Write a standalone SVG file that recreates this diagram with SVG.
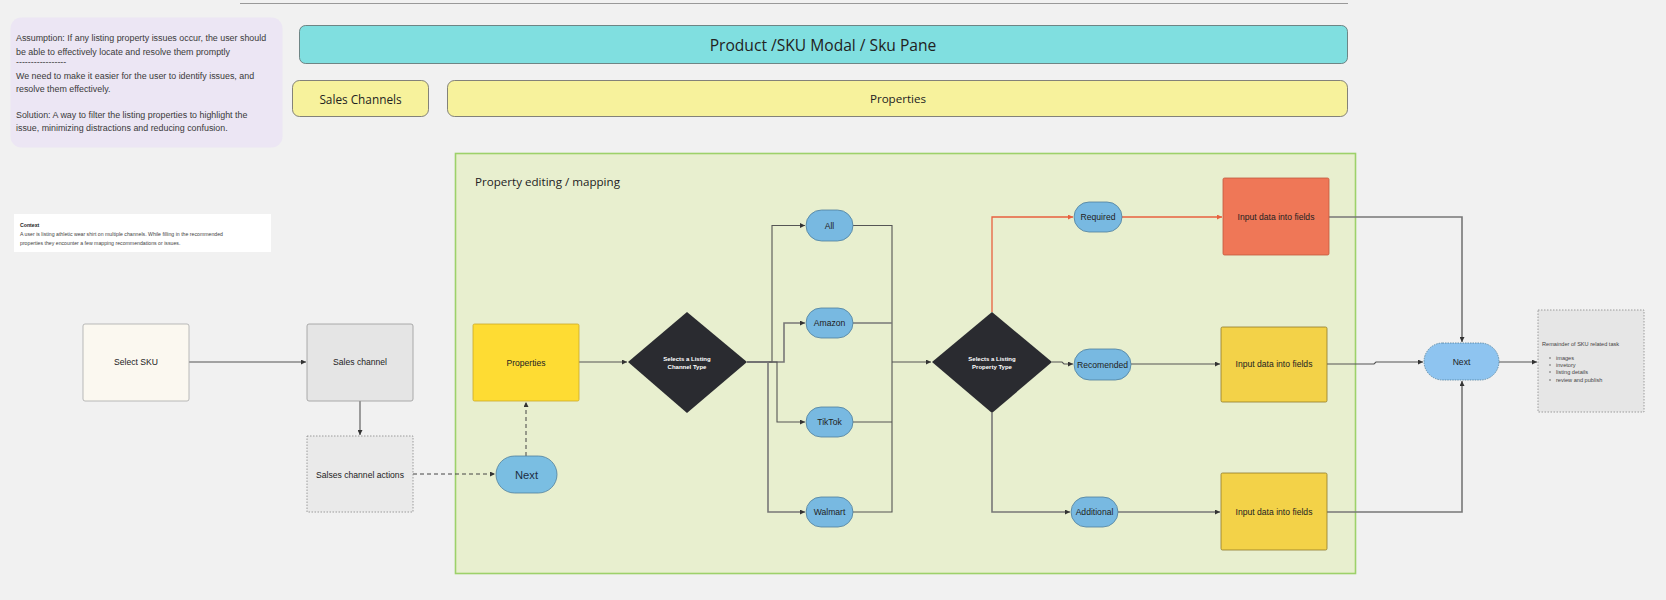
<svg xmlns="http://www.w3.org/2000/svg" width="1666" height="600" viewBox="0 0 1666 600">
<defs>
<style>
.sans{font-family:"Liberation Sans",Arial,sans-serif}
.os{font-family:"Open Sans","Liberation Sans",sans-serif;fill:#222}
.lbl{font-family:"Liberation Sans",Arial,sans-serif;font-size:8.6px;fill:#222;text-anchor:middle;dominant-baseline:central}
.dlbl{font-family:"Liberation Sans",Arial,sans-serif;font-size:6px;font-weight:bold;fill:#fff;text-anchor:middle}
.note{font-family:"Liberation Sans",Arial,sans-serif;font-size:8.9px;fill:#3a3a3a}
.pill{fill:#78B9E1;stroke:#4f7f9c;stroke-width:0.8}
.box{stroke-width:0.8}
.ln{fill:none;stroke:#555;stroke-width:1.1}
.lg{fill:none;stroke:#777;stroke-width:1.6}
.red{fill:none;stroke:#E8603F;stroke-width:1.3}
.dash{fill:none;stroke:#444;stroke-width:1;stroke-dasharray:4,3}
</style>
<marker id="ar" viewBox="0 0 6 6" refX="6" refY="3" markerWidth="5" markerHeight="5" markerUnits="userSpaceOnUse" orient="auto"><path d="M0,0 L6,3 L0,6 z" fill="#333"/></marker>
<marker id="arr" viewBox="0 0 6 6" refX="6" refY="3" markerWidth="5" markerHeight="5" markerUnits="userSpaceOnUse" orient="auto"><path d="M0,0 L6,3 L0,6 z" fill="#E8603F"/></marker>
</defs>
<rect x="0" y="0" width="1666" height="600" fill="#F1F1F1"/>
<line x1="240" y1="3.5" x2="1348" y2="3.5" stroke="#999" stroke-width="1"/>

<g id="assumption">
<rect x="10.5" y="17.5" width="272" height="130" rx="11" fill="#ECE6F4"/>
<text class="note" x="16" y="41">Assumption: If any listing property issues occur, the user should</text>
<text class="note" x="16" y="55">be able to effectively locate and resolve them promptly</text>
<text class="note" x="16" y="65">-----------------</text>
<text class="note" x="16" y="79">We need to make it easier for the user to identify issues, and</text>
<text class="note" x="16" y="92">resolve them effectively.</text>
<text class="note" x="16" y="118">Solution: A way to filter the listing properties to highlight the</text>
<text class="note" x="16" y="131">issue, minimizing distractions and reducing confusion.</text>
</g>

<g id="context">
<rect x="14" y="214" width="257" height="38" fill="#FFFFFF"/>
<text class="sans" x="20" y="227" font-size="5.2" font-weight="bold" fill="#222">Context</text>
<text class="sans" x="20" y="236" font-size="5.2" fill="#444">A user is listing athletic wear shirt on multiple channels. While filling in the recommended</text>
<text class="sans" x="20" y="245" font-size="5.2" fill="#444">properties they encounter a few mapping recommendations or issues.</text>
</g>

<g id="header">
<rect x="299.5" y="25.5" width="1048" height="38" rx="6" fill="#80DFE0" stroke="#5b6b6b" stroke-width="0.8"/>
<text class="os" x="823" y="45" font-size="15.6" text-anchor="middle" dominant-baseline="central">Product /SKU Modal / Sku Pane</text>
</g>
<g id="sales-channels-bar">
<rect x="292.5" y="80.5" width="136" height="36" rx="7" fill="#F7F29C" stroke="#666" stroke-width="0.8"/>
<text class="os" x="360.5" y="98.5" font-size="11.8" text-anchor="middle" dominant-baseline="central">Sales Channels</text>
</g>
<g id="properties-bar">
<rect x="447.5" y="80.5" width="900" height="36" rx="7" fill="#F7F29C" stroke="#666" stroke-width="0.8"/>
<text class="os" x="898" y="98.5" font-size="11.6" text-anchor="middle" dominant-baseline="central">Properties</text>
</g>

<g id="container">
<rect x="455.5" y="153.5" width="900" height="420" fill="#E8EFCF" stroke="#9DD16A" stroke-width="1.6"/>
<text class="os" x="475" y="186" font-size="11.6">Property editing / mapping</text>
</g>

<g id="connectors">
<path class="ln" d="M189,362 H306" marker-end="url(#ar)"/>
<path class="ln" d="M360,401 V435" marker-end="url(#ar)"/>
<path class="dash" d="M413,474 H495" marker-end="url(#ar)"/>
<path class="dash" d="M526,456 V402" marker-end="url(#ar)"/>
<path class="ln" d="M579,362 H627" marker-end="url(#ar)"/>
<path class="ln" d="M747,362 H772 V225.5 H805" marker-end="url(#ar)"/>
<path class="lg" d="M747,362 H784 V323 H805" marker-end="url(#ar)"/>
<path class="ln" d="M747,362 H777 V422 H805" marker-end="url(#ar)"/>
<path class="lg" d="M747,362 H768 V512 H805" marker-end="url(#ar)"/>
<path class="ln" d="M853,225.5 H892 V512 H853"/>
<path class="lg" d="M853,323 H892"/>
<path class="ln" d="M853,422 H892"/>
<path class="ln" d="M892,362 H931" marker-end="url(#ar)"/>
<path class="red" d="M992,312 V217 H1073" marker-end="url(#arr)"/>
<path class="red" d="M1122,217 H1222" marker-end="url(#arr)"/>
<path class="ln" d="M1052,362 H1062 L1064,364 H1073" marker-end="url(#ar)"/>
<path class="ln" d="M1131,364 H1220" marker-end="url(#ar)"/>
<path class="lg" d="M992,413 V512 H1070" marker-end="url(#ar)"/>
<path class="lg" d="M1118,512 H1220" marker-end="url(#ar)"/>
<path class="lg" d="M1329,217 H1462 V342" marker-end="url(#ar)"/>
<path class="ln" d="M1327,364 H1374 L1376,362 H1423" marker-end="url(#ar)"/>
<path class="lg" d="M1327,512 H1462 V381" marker-end="url(#ar)"/>
<path class="ln" d="M1499,362 H1537" marker-end="url(#ar)"/>
</g>

<g id="select-sku">
<rect class="box" x="83" y="324" width="106" height="77" rx="2" fill="#FBF8F0" stroke="#aaa"/>
<text class="lbl" x="136" y="362">Select SKU</text>
</g>
<g id="sales-channel">
<rect class="box" x="307" y="324" width="106" height="77" rx="2" fill="#E5E5E5" stroke="#999"/>
<text class="lbl" x="360" y="362">Sales channel</text>
</g>
<g id="sales-channel-actions">
<rect x="307" y="436" width="106" height="76" fill="#EAEAEA" stroke="#888" stroke-width="0.8" stroke-dasharray="1.5,1.5"/>
<text class="lbl" x="360" y="475">Salses channel actions</text>
</g>
<g id="next-left">
<rect x="496" y="456" width="61" height="37" rx="18.5" fill="#7ABEE2" stroke="#4f7f9c" stroke-width="0.8"/>
<text class="sans" x="526.5" y="474.5" font-size="11.2" fill="#1d2f44" text-anchor="middle" dominant-baseline="central">Next</text>
</g>
<g id="properties">
<rect class="box" x="473" y="324" width="106" height="77" rx="1.5" fill="#FEDC33" stroke="#caa82a"/>
<text class="lbl" x="526" y="363" fill="#5a4a10">Properties</text>
</g>
<g id="channel-type">
<polygon points="628,362 687,312 747,362 687,413" fill="#2A2B30"/>
<text class="dlbl" x="687" y="361">Selects a Listing</text>
<text class="dlbl" x="687" y="368.5">Channel Type</text>
</g>
<g id="all">
<rect class="pill" x="806" y="210" width="47" height="31" rx="15.5"/>
<text class="lbl" x="829.5" y="225.5">All</text>
</g>
<g id="amazon">
<rect class="pill" x="806" y="308" width="47" height="30" rx="15"/>
<text class="lbl" x="829.5" y="323">Amazon</text>
</g>
<g id="tiktok">
<rect class="pill" x="806" y="407" width="47" height="30" rx="15"/>
<text class="lbl" x="829.5" y="422">TikTok</text>
</g>
<g id="walmart">
<rect class="pill" x="806" y="497" width="47" height="30" rx="15"/>
<text class="lbl" x="829.5" y="512">Walmart</text>
</g>
<g id="property-type">
<polygon points="932,362 992,312 1052,362 992,413" fill="#2A2B30"/>
<text class="dlbl" x="992" y="361">Selects a Listing</text>
<text class="dlbl" x="992" y="368.5">Property Type</text>
</g>
<g id="required">
<rect class="pill" x="1074" y="202" width="48" height="30" rx="15"/>
<text class="lbl" x="1098" y="217">Required</text>
</g>
<g id="recomended">
<rect class="pill" x="1074" y="349" width="57" height="31" rx="15.5"/>
<text class="lbl" x="1102.5" y="364.5">Recomended</text>
</g>
<g id="additional">
<rect class="pill" x="1071" y="497" width="47" height="30" rx="15"/>
<text class="lbl" x="1094.5" y="512">Additional</text>
</g>
<g id="input-required">
<rect class="box" x="1223" y="178" width="106" height="77" rx="1.5" fill="#EF7757" stroke="#c2583c"/>
<text class="lbl" x="1276" y="217">Input data into fields</text>
</g>
<g id="input-recomended">
<rect class="box" x="1221" y="327" width="106" height="75" rx="1.5" fill="#F3D248" stroke="#8f7a2a"/>
<text class="lbl" x="1274" y="364">Input data into fields</text>
</g>
<g id="input-additional">
<rect class="box" x="1221" y="473" width="106" height="77" rx="1.5" fill="#F3D248" stroke="#8f7a2a"/>
<text class="lbl" x="1274" y="512">Input data into fields</text>
</g>
<g id="next-right">
<rect x="1424" y="343" width="75" height="37" rx="18.5" fill="#8EC4F0" stroke="#4f7f9c" stroke-width="0.8" stroke-dasharray="1.5,1"/>
<text class="lbl" x="1461.5" y="362" fill="#1d2f44">Next</text>
</g>
<g id="remainder">
<rect x="1538" y="310" width="106" height="102" fill="#E6E6E6" stroke="#888" stroke-width="0.8" stroke-dasharray="1.5,1.5"/>
<text class="sans" x="1542" y="346" font-size="5.6" fill="#444">Remainder of SKU related task</text>
<g class="sans" font-size="5.6" fill="#444">
<circle cx="1550" cy="358" r="0.7" fill="#444"/><text x="1556" y="360">images</text>
<circle cx="1550" cy="365" r="0.7" fill="#444"/><text x="1556" y="367">invetory</text>
<circle cx="1550" cy="372" r="0.7" fill="#444"/><text x="1556" y="374">listing details</text>
<circle cx="1550" cy="380" r="0.7" fill="#444"/><text x="1556" y="382">review and publish</text>
</g>
</g>
</svg>
